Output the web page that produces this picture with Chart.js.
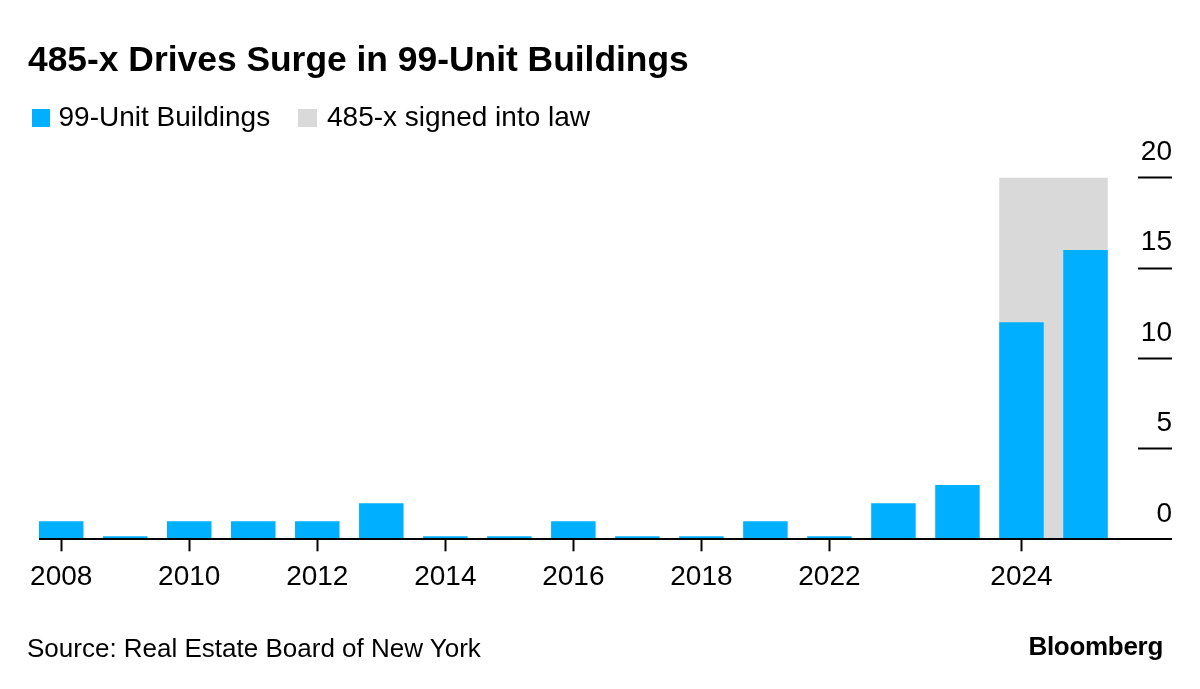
<!DOCTYPE html>
<html>
<head>
<meta charset="utf-8">
<script src="https://cdn.jsdelivr.net/npm/chart.js@4/dist/chart.umd.min.js"></script>
<style>
  html, body { margin: 0; padding: 0; background: #fff; }
  #wrap { position: relative; width: 1200px; height: 689px; overflow: hidden;
          font-family: "Liberation Sans", Arial, Helvetica, sans-serif; color: #000; }
  #chartBox { position: absolute; left: 0; top: 0; width: 1200px; height: 689px; }
  .t { position: absolute; white-space: nowrap; }
  .title { left: 28px; top: 37.9px; font-weight: bold; font-size: 35.4px; line-height: 42px; }
  .leg { top: 101.3px; font-size: 28px; line-height: 32px; }
  .sw { position: absolute; width: 18.5px; height: 18.5px; top: 108.5px; }
  .src { left: 27px; top: 633px; font-size: 26px; line-height: 30px; }
  .logo { right: 37px; top: 630.5px; font-size: 26px; line-height: 30px; font-weight: bold; letter-spacing: -0.3px; }
</style>
</head>
<body>
<div id="wrap">
  <div id="chartBox"><canvas id="c"></canvas></div>
  <div class="t title">485-x Drives Surge in 99-Unit Buildings</div>
  <div class="sw" style="left:31.7px;background:#00AFFF"></div>
  <div class="t leg" style="left:58.5px">99-Unit Buildings</div>
  <div class="sw" style="left:298px;background:#D9D9D9"></div>
  <div class="t leg" style="left:327px">485-x signed into law</div>
  <div class="t src">Source: Real Estate Board of New York</div>
  <div class="t logo">Bloomberg</div>
</div>
<script>
// ---- data ----
const categories = ['2008', '', '2010', '', '2012', '', '2014', '', '2016', '', '2018', '', '2022', '', '', '2024', ''];
const buildings  = [1, 0, 1, 1, 1, 2, 0, 0, 1, 0, 0, 1, 0, 2, 3, 12, 16];
const lawShade   = [null, null, null, null, null, null, null, null, null, null, null, null, null, null, null, 20, 20];
const yTicks     = [0, 5, 10, 15, 20];

const BLUE = '#00AFFF';
const GREY = '#D9D9D9';
const Y_TICK_LEN = 54.5;

const decor = {
  id: 'decor',
  beforeDatasetsDraw(chart) {
    const meta = chart.getDatasetMeta(0);
    const y = chart.scales.y;
    let left = Infinity, right = -Infinity, top = Infinity;
    lawShade.forEach((v, i) => {
      if (v === null) return;
      const el = meta.data[i];
      left = Math.min(left, el.x - el.width / 2);
      right = Math.max(right, el.x + el.width / 2);
      top = Math.min(top, y.getPixelForValue(v));
    });
    if (left < right) {
      const ctx = chart.ctx;
      ctx.save();
      ctx.fillStyle = GREY;
      ctx.fillRect(left, top, right - left, y.getPixelForValue(0) - top);
      ctx.restore();
    }
  },
  afterDatasetsDraw(chart) {
    const meta = chart.getDatasetMeta(0);
    const y = chart.scales.y;
    const el0 = meta.data[0];
    const ctx = chart.ctx;
    const y0 = Math.round(y.getPixelForValue(0) - 1) + 1;
    ctx.save();
    ctx.strokeStyle = '#000';
    ctx.lineWidth = 2;
    ctx.beginPath();
    ctx.moveTo(el0.x - el0.width / 2, y0);
    ctx.lineTo(y.left + Y_TICK_LEN, y0);
    ctx.stroke();
    ctx.restore();
  }
};

Chart.defaults.font.family = '"Liberation Sans", Arial, Helvetica, sans-serif';
Chart.defaults.color = '#000';

new Chart(document.getElementById('c'), {
  type: 'bar',
  data: {
    labels: categories,
    datasets: [{
      label: '99-Unit Buildings',
      data: buildings,
      backgroundColor: BLUE,
      borderWidth: 0,
      barPercentage: 0.695,
      categoryPercentage: 1,
      minBarLength: 3
    }]
  },
  options: {
    responsive: true,
    maintainAspectRatio: false,
    animation: false,
    layout: { padding: { left: 29.2, right: -81, top: 177.7, bottom: 85.1 } },
    plugins: { legend: { display: false }, title: { display: false }, tooltip: { enabled: false } },
    scales: {
      x: {
        offset: true,
        border: { display: false },
        grid: {
          display: true, offset: false, drawOnChartArea: false, drawTicks: true, tickLength: 12, tickWidth: 2,
          tickColor: (ctx) => (categories[ctx.index] ? '#000' : 'rgba(0,0,0,0)')
        },
        ticks: { autoSkip: false, maxRotation: 0, minRotation: 0, padding: 9.5, font: { size: 28 }, color: '#000' }
      },
      y: {
        position: 'right',
        min: 0,
        max: 20,
        afterBuildTicks: (scale) => { scale.ticks = yTicks.map(v => ({ value: v })); },
        border: { display: false },
        grid: {
          display: true, drawOnChartArea: false, drawTicks: true, tickLength: Y_TICK_LEN, tickWidth: 2,
          tickColor: (ctx) => (ctx.tick && ctx.tick.value === 0 ? 'rgba(0,0,0,0)' : '#000'),
          tickBorderDash: [0, 20, 34.5, 400]
        },
        ticks: { mirror: true, crossAlign: 'near', padding: Y_TICK_LEN, labelOffset: -25.5, font: { size: 28 }, color: '#000' }
      }
    }
  },
  plugins: [decor]
});
</script>
</body>
</html>
